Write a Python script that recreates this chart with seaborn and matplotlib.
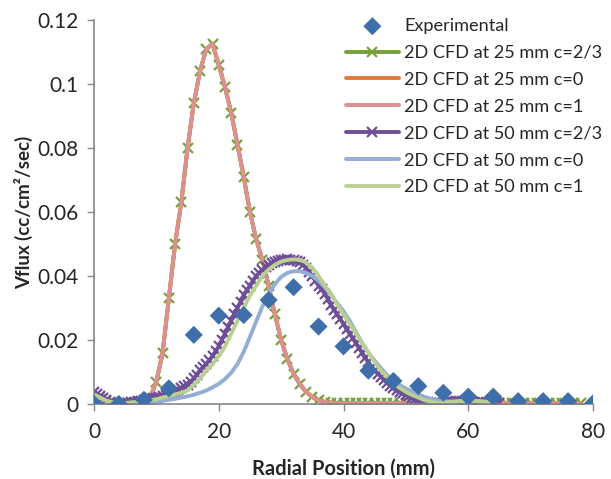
import numpy as np
import seaborn as sns
import matplotlib.pyplot as plt
from matplotlib.ticker import FuncFormatter

# Experimental data (every 4 mm)
exp_x = [0, 4, 8, 12, 16, 20, 24, 28, 32, 36, 40, 44, 48, 52, 56, 60, 64, 68, 72, 76, 80]
exp_y = [0.0, 0.0, 0.0013, 0.0049, 0.0216, 0.0276, 0.0278, 0.0325, 0.0365, 0.0242, 0.018,
         0.0104, 0.0072, 0.0056, 0.0035, 0.0023, 0.0023, 0.0009, 0.0009, 0.0009, 0.0002]

# 2D CFD at 25 mm (1 mm grid, 0..78)
x25 = np.arange(0, 79, 1.0)
y25 = [0.0020, 0.0015, 0.0010, 0.0006, 0.0003, 0.0002, 0.0002, 0.0004, 0.0008, 0.0020,
       0.0070, 0.0160, 0.0330, 0.0500, 0.0630, 0.0800, 0.0940, 0.1040, 0.1110, 0.1125,
       0.1060, 0.0990, 0.0910, 0.0810, 0.0710, 0.0600, 0.0515, 0.0450, 0.0370, 0.0280,
       0.0200, 0.0140, 0.0095, 0.0062, 0.0038, 0.0022, 0.0012, 0.0006, 0.0004, 0.0003,
       0.0003, 0.0003, 0.0003, 0.0003, 0.0003, 0.0003, 0.0003, 0.0003, 0.0003, 0.0003,
       0.0003, 0.0003, 0.0003, 0.0003, 0.0003, 0.0003, 0.0003, 0.0003, 0.0003, 0.0003,
       0.0003, 0.0003, 0.0003, 0.0003, 0.0003, 0.0003, 0.0003, 0.0003, 0.0003, 0.0003,
       0.0003, 0.0003, 0.0003, 0.0003, 0.0003, 0.0003, 0.0003, 0.0003, 0.0003]

# 2D CFD at 50 mm, c=2/3 (0.5 mm grid, 0..65)
x50_23 = np.arange(0, 65.5, 0.5)
y50_23 = [0.0038, 0.0032, 0.0025, 0.0018, 0.0012, 0.0007, 0.0003, 0.0001, 0.0000, 0.0001,
          0.0002, 0.0004, 0.0006, 0.0007, 0.0009, 0.0010, 0.0012, 0.0014, 0.0016, 0.0018,
          0.0020, 0.0023, 0.0026, 0.0029, 0.0032, 0.0036, 0.0040, 0.0045, 0.0050, 0.0055,
          0.0060, 0.0070, 0.0080, 0.0092, 0.0105, 0.0115, 0.0125, 0.0137, 0.0150, 0.0165,
          0.0180, 0.0200, 0.0220, 0.0240, 0.0260, 0.0280, 0.0300, 0.0320, 0.0340, 0.0355,
          0.0370, 0.0385, 0.0400, 0.0410, 0.0420, 0.0428, 0.0435, 0.0440, 0.0445, 0.0448,
          0.0450, 0.0451, 0.0452, 0.0451, 0.0450, 0.0447, 0.0443, 0.0435, 0.0425, 0.0413,
          0.0400, 0.0385, 0.0370, 0.0358, 0.0345, 0.0328, 0.0310, 0.0295, 0.0280, 0.0265,
          0.0250, 0.0235, 0.0220, 0.0205, 0.0190, 0.0175, 0.0160, 0.0145, 0.0130, 0.0117,
          0.0105, 0.0095, 0.0085, 0.0075, 0.0065, 0.0057, 0.0050, 0.0044, 0.0038, 0.0033,
          0.0028, 0.0024, 0.0020, 0.0016, 0.0012, 0.0009, 0.0007, 0.0005, 0.0004, 0.0003,
          0.0003, 0.0003, 0.0004, 0.0005, 0.0006, 0.0007, 0.0008, 0.0009, 0.0009, 0.0009,
          0.0009, 0.0008, 0.0007, 0.0006, 0.0005, 0.0004, 0.0004, 0.0003, 0.0003, 0.0003,
          0.0003]

# 2D CFD at 50 mm, c=0 and c=1 (1 mm grid, 0..64)
x50 = np.arange(0, 65, 1.0)
y50_c0 = [0.0025, 0.0018, 0.0010, 0.0005, 0.0002, 0.0001, 0.0001, 0.0002, 0.0003, 0.0005,
          0.0007, 0.0010, 0.0013, 0.0016, 0.0020, 0.0024, 0.0029, 0.0035, 0.0042, 0.0052,
          0.0063, 0.0078, 0.0098, 0.0125, 0.0163, 0.0210, 0.0258, 0.0305, 0.0345, 0.0375,
          0.0397, 0.0410, 0.0415, 0.0415, 0.0410, 0.0400, 0.0385, 0.0365, 0.0340, 0.0315,
          0.0290, 0.0260, 0.0225, 0.0190, 0.0160, 0.0135, 0.0112, 0.0090, 0.0075, 0.0060,
          0.0048, 0.0040, 0.0030, 0.0022, 0.0016, 0.0012, 0.0009, 0.0008, 0.0008, 0.0009,
          0.0010, 0.0010, 0.0009, 0.0007, 0.0005]
y50_c1 = [0.0030, 0.0020, 0.0010, 0.0005, 0.0003, 0.0003, 0.0005, 0.0007, 0.0010, 0.0012,
          0.0015, 0.0020, 0.0025, 0.0030, 0.0035, 0.0042, 0.0060, 0.0080, 0.0105, 0.0125,
          0.0150, 0.0180, 0.0220, 0.0260, 0.0300, 0.0340, 0.0370, 0.0400, 0.0420, 0.0435,
          0.0445, 0.0450, 0.0452, 0.0450, 0.0443, 0.0425, 0.0400, 0.0370, 0.0345, 0.0310,
          0.0280, 0.0250, 0.0220, 0.0190, 0.0160, 0.0130, 0.0105, 0.0085, 0.0065, 0.0050,
          0.0038, 0.0028, 0.0020, 0.0012, 0.0007, 0.0004, 0.0004, 0.0006, 0.0008, 0.0010,
          0.0010, 0.0010, 0.0008, 0.0006, 0.0005]

sns.set_style("white")
plt.rcParams['font.family'] = ['Lato', 'DejaVu Sans']

fig = plt.figure(figsize=(6.11, 4.79), dpi=100)
ax = fig.add_axes([94 / 611, 1 - 404 / 479, 499 / 611, 384 / 479])

lw = 2.8
green = '#77A03A'
purple = '#6E4E96'
sns.scatterplot(x=exp_x, y=exp_y, ax=ax, marker='D', s=85, color='#3F6FAA',
                edgecolor='none', zorder=10, label='Experimental')
sns.lineplot(x=x25, y=y25, ax=ax, color=green, lw=lw, marker='x', ms=7.5, mew=1.6,
             mec=green, mfc=green, label='2D CFD at 25 mm c=2/3')
sns.lineplot(x=x25, y=y25, ax=ax, color='#E07B33', lw=lw, label='2D CFD at 25 mm c=0')
sns.lineplot(x=x25, y=y25, ax=ax, color='#D99290', lw=lw, label='2D CFD at 25 mm c=1')
sns.lineplot(x=x50_23, y=y50_23, ax=ax, color=purple, lw=lw, marker='x', ms=7.5, mew=1.6,
             mec=purple, mfc=purple, label='2D CFD at 50 mm c=2/3')
sns.lineplot(x=x50, y=y50_c0, ax=ax, color='#92AED6', lw=lw, label='2D CFD at 50 mm c=0')
sns.lineplot(x=x50, y=y50_c1, ax=ax, color='#B9D091', lw=lw, label='2D CFD at 50 mm c=1')

ax.set_xlim(0, 80)
ax.set_ylim(0, 0.12)
ax.set_xticks([0, 20, 40, 60, 80])
ax.set_yticks([0, 0.02, 0.04, 0.06, 0.08, 0.1, 0.12])
ax.yaxis.set_major_formatter(FuncFormatter(lambda v, p: f'{v:g}'))
ax.tick_params(axis='both', labelsize=15, direction='out', length=5, width=1,
               color='#868686', left=True, bottom=True)
ax.tick_params(axis='x', pad=8)
ax.tick_params(axis='y', pad=6)
for side in ['top', 'right']:
    ax.spines[side].set_visible(False)
for side in ['left', 'bottom']:
    ax.spines[side].set_color('#868686')
    ax.spines[side].set_linewidth(1.2)

ax.set_xlabel('Radial Position (mm)', fontsize=14.5, fontweight='bold', labelpad=12)
ax.set_ylabel('Vflux (cc/cm²/sec)', fontsize=13.5, fontweight='bold', labelpad=3)

ax.legend(loc='upper left', bbox_to_anchor=(346 / 611, 1 - 18 / 479),
          bbox_transform=fig.transFigure, frameon=False, fontsize=13.1,
          handlelength=2.9, handletextpad=0.3, labelspacing=0.6,
          borderpad=0, borderaxespad=0)

fig.savefig('out.png', dpi=100)
